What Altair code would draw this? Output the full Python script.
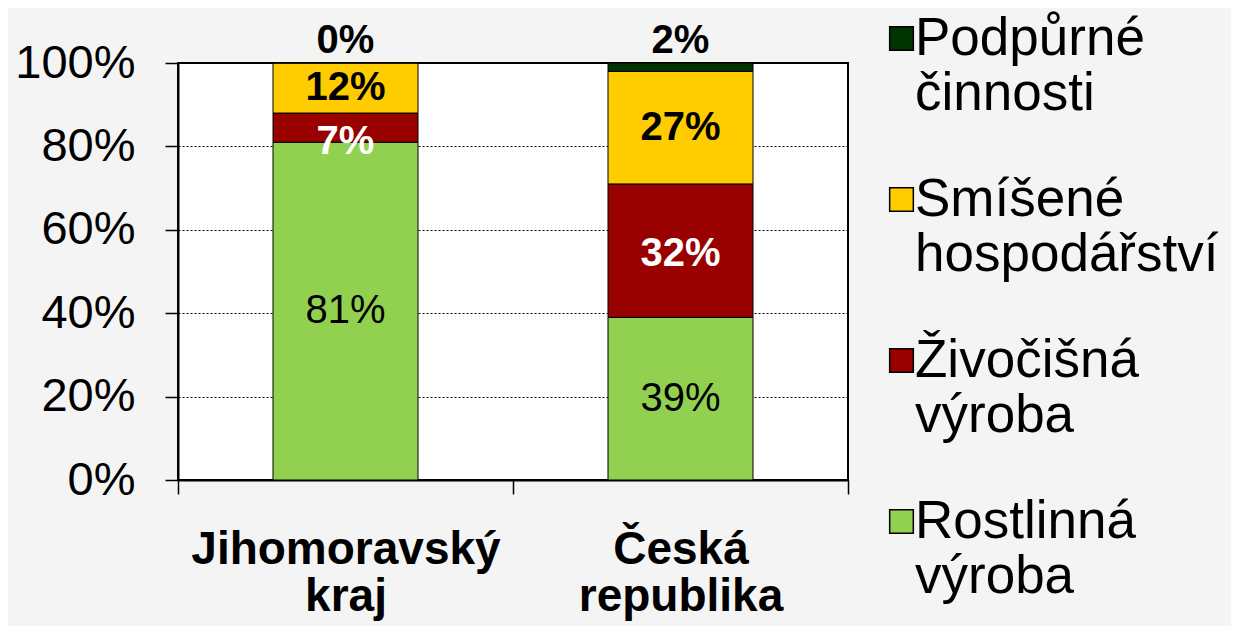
import altair as alt
import pandas as pd

regions = ["Jihomoravský kraj", "Česká republika"]
categories = ["Rostlinná výroba", "Živočišná výroba", "Smíšené hospodářství", "Podpůrné činnosti"]
jihomoravsky = [81, 7, 12, 0]
ceska = [39, 32, 27, 2]
legend_order = ["Podpůrné činnosti", "Smíšené hospodářství", "Živočišná výroba", "Rostlinná výroba"]
legend_colors = ["#003300", "#FFCC00", "#990000", "#92D050"]
y_ticks = [0, 20, 40, 60, 80, 100]

rows = []
for region, vals in zip(regions, [jihomoravsky, ceska]):
    for i, (cat, v) in enumerate(zip(categories, vals)):
        rows.append({"region": region, "category": cat, "value": v, "order": i, "label": f"{v}%"})
df = pd.DataFrame(rows)

LABEL_FONT = "Liberation Sans, Arial, sans-serif"

base = alt.Chart(df).transform_stack(
    stack="value", groupby=["region"], sort=[alt.SortField("order")], as_=["y0", "y1"]
).transform_calculate(mid="(datum.y0 + datum.y1) / 2")

x_enc = alt.X(
    "region:N", sort=regions, title=None,
    scale=alt.Scale(paddingInner=0, paddingOuter=0),
    axis=alt.Axis(
        labelAngle=0, tickBand="extent", tickSize=14, tickColor="black", tickWidth=1.5,
        domainColor="black", domainWidth=2, grid=False,
        labelFont=LABEL_FONT, labelFontWeight="bold", labelFontSize=46,
        labelLineHeight=47, labelPadding=33, labelColor="black", labelLimit=0,
        labelExpr="split(datum.label, ' ')",
    ),
)

bars = base.mark_bar(size=145, stroke="black", strokeWidth=1).encode(
    x=x_enc,
    y=alt.Y(
        "y0:Q", title=None, scale=alt.Scale(domain=[0, 100]),
        axis=alt.Axis(
            values=y_ticks, labelExpr="datum.value + '%'", labelFont=LABEL_FONT,
            labelFontSize=47, labelColor="black", labelPadding=30,
            tickSize=13, tickColor="black", tickWidth=1.5, domainColor="black", domainWidth=2,
            grid=True, gridColor="black", gridDash=[2, 2], gridWidth=1,
        ),
    ),
    y2="y1:Q",
    color=alt.Color(
        "category:N",
        scale=alt.Scale(domain=legend_order, range=legend_colors),
        legend=alt.Legend(
            title=None, orient="none", legendX=697, legendY=-51,
            symbolType="square", symbolSize=560, symbolStrokeColor="black",
            symbolStrokeWidth=1.5, symbolOpacity=1,
            labelFont=LABEL_FONT, labelFontSize=53, labelColor="black",
            labelLimit=0, labelOffset={"expr": "-13"}, rowPadding=52,
            labelExpr="split(datum.label, ' ')",
        ),
    ),
    order=alt.Order("order:Q"),
)

txt_y = alt.Y("mid:Q")

normal_black = base.transform_filter("datum.category == 'Rostlinná výroba'").mark_text(
    font=LABEL_FONT, fontSize=40, color="black", baseline="middle"
).encode(x=alt.X("region:N", sort=regions), y=txt_y, text="label:N")

bold_black = base.transform_filter("datum.category == 'Smíšené hospodářství'").mark_text(
    font=LABEL_FONT, fontSize=40, fontWeight="bold", color="black", baseline="middle"
).encode(x=alt.X("region:N", sort=regions), y=txt_y, text="label:N")

white_big = base.transform_filter(
    "datum.category == 'Živočišná výroba' && datum.value >= 10"
).mark_text(
    font=LABEL_FONT, fontSize=40, fontWeight="bold", color="white", baseline="middle", dy=3
).encode(x=alt.X("region:N", sort=regions), y=txt_y, text="label:N")

white_small = base.transform_filter(
    "datum.category == 'Živočišná výroba' && datum.value < 10"
).mark_text(
    font=LABEL_FONT, fontSize=40, fontWeight="bold", color="white", baseline="middle", dy=14
).encode(x=alt.X("region:N", sort=regions), y=txt_y, text="label:N")

top_labels = base.transform_filter("datum.category == 'Podpůrné činnosti'").mark_text(
    font=LABEL_FONT, fontSize=40, fontWeight="bold", color="black", baseline="middle", dy=-22
).encode(x=alt.X("region:N", sort=regions), y=alt.Y("y1:Q"), text="label:N")

chart = alt.layer(bars, normal_black, bold_black, white_big, white_small, top_labels).properties(
    width=670, height=417,
    autosize=alt.AutoSizeParams(type="none"),
    padding={"left": 170, "top": 55, "right": 383, "bottom": 146},
    background="#f4f4f4",
).configure_view(fill="white", stroke="black", strokeWidth=2)

chart.save("out.html", embed_options={"renderer": "svg", "actions": False})
